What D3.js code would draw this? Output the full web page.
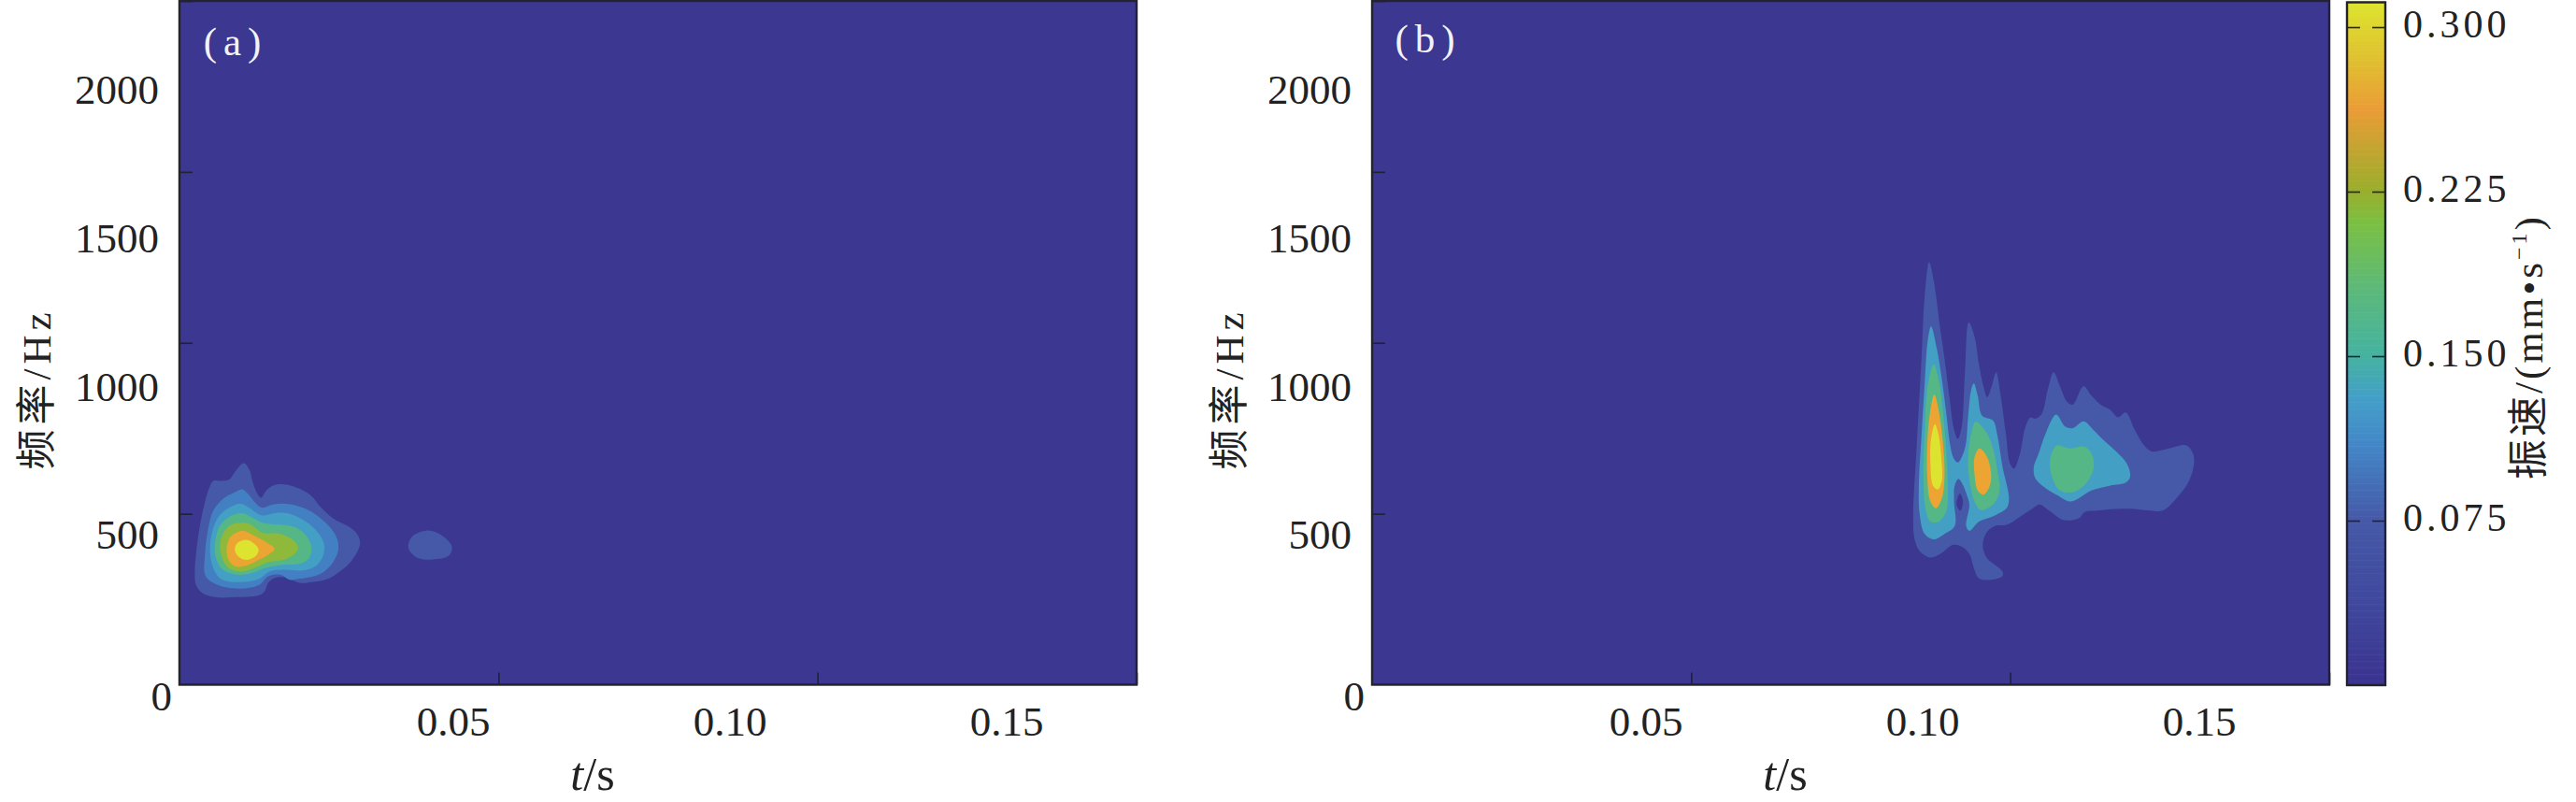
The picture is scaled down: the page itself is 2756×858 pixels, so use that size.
<!DOCTYPE html>
<html><head><meta charset="utf-8">
<script src="https://cdn.jsdelivr.net/npm/d3@7"></script>
<style>
html,body{margin:0;padding:0;background:#fff}
svg{display:block}
text{font-family:"Liberation Serif","Noto Sans CJK SC",serif;fill:#222}
</style></head><body>
<svg id="c" width="2756" height="858"></svg>
<script>
// ---- data: closed iso-velocity outlines, each point [time in ms, frequency in Hz]
const bandColors = ["#4659a8","#437fc3","#449fc4","#55b785","#8fb93a","#eca533","#dde42f"];
const backgroundColor = "#3c3790";

const a1 = [[10.1,648],[11,627],[11.5,591],[12.2,559],[12.8,547],[13.6,568],[14.6,582],[16.3,586],[18.3,577],[20.5,555],[22.2,518],[24.1,486],[26.8,459],[28,436],[28.3,413],[27.8,386],[26.6,354],[25.1,331],[23.2,309],[20.7,300],[18.8,298],[16.8,313],[15.1,313],[14,300],[13.3,272],[12.4,261],[9,256],[5.6,256],[3.6,268],[2.6,291],[2.4,327],[2.6,382],[3.1,454],[3.9,527],[4.7,577],[5.3,596],[6.5,596],[7.8,600],[8.7,623]];
const a1b = [[38.9,451],[41.1,437],[42.7,404],[42.2,377],[39.3,366],[37.2,372],[35.9,399],[36.4,432]];
const a2 = [[9.9,571],[10.7,559],[11.7,536],[12.9,518],[14.6,527],[16.8,529],[19.3,518],[21.2,500],[23.2,468],[24.6,432],[24.9,395],[24.1,359],[22.7,331],[21.2,318],[18.8,310],[17.3,307],[15.8,322],[14,318],[12.4,291],[9.5,281],[6.1,291],[4.1,318],[4,382],[4.4,445],[5.3,509],[7,546],[8.5,561]];
const a3 = [[9.7,529],[11.2,514],[12.9,495],[14.9,502],[17.3,500],[19.8,477],[21.7,445],[22.7,409],[22.4,372],[21.2,345],[19.3,334],[16.3,336],[14.1,331],[12.4,309],[9.5,300],[6.5,309],[5.3,341],[4.8,391],[5.1,445],[6.1,491],[7.8,518]];
const a4 = [[9.7,502],[11.7,486],[13.1,473],[15.8,468],[18.3,459],[20,432],[20.7,400],[20.2,368],[18.8,354],[15.8,350],[13.4,341],[11.4,327],[9,322],[6.8,336],[5.7,372],[5.6,418],[6.3,464],[7.8,491]];
const a5 = [[9.7,474],[11.2,468],[12.9,445],[15.8,441],[17.8,423],[18.6,402],[18,382],[16.3,365],[13.9,359],[11.7,341],[9.5,331],[7.5,345],[6.5,382],[6.5,427],[7.8,464]];
const a6 = [[10,450],[11.7,436],[13.9,413],[14.9,398],[14.1,382],[12.2,363],[10.7,350],[9,345],[7.8,361],[7.4,395],[7.8,427],[8.7,443]];
const a7 = [[10.5,424],[11.7,413],[12.4,395],[12,377],[10.7,365],[9.5,371],[8.7,391],[9,413]];

const b1 = [[87.3,1236],[88,1183],[89,1046],[89.7,955],[90.5,837],[91.2,746],[91.8,719],[92.4,755],[92.9,910],[93.5,1060],[94.4,1019],[95.1,937],[95.8,873],[96.4,841],[97.1,873],[97.8,914],[98.5,846],[99.3,737],[100,646],[100.6,632],[101.5,673],[102.4,755],[103.2,782],[103.9,778],[104.9,791],[105.9,864],[106.8,914],[107.8,873],[108.9,828],[109.8,819],[111.5,873],[112.7,846],[114.2,819],[115.6,805],[116.9,782],[118.1,796],[119.5,746],[121,700],[122.2,682],[124.9,691],[127.6,700],[128.6,678],[128.8,646],[127.9,591],[126.1,546],[123.9,509],[122,509],[119.5,514],[116.6,514],[113.7,509],[111.7,505],[110.7,486],[108.3,482],[106.1,509],[104.6,527],[103.4,514],[101.5,491],[99.5,468],[97.6,464],[96.3,445],[95.7,409],[96.3,372],[98.8,331],[98.8,318],[97.1,307],[95.1,311],[94.4,336],[93.6,382],[92.4,404],[91,409],[89,382],[87.5,372],[85.8,391],[85,427],[84.8,500],[85.3,682],[86.1,955],[86.6,1137]];
const b1hole = [[92.1,559],[92.6,536],[92.2,509],[91.6,527]];
const b3 = [[87.6,1048],[88.5,983],[89.3,892],[90,791],[90.6,700],[91.1,664],[91.8,650],[92.9,691],[93.4,782],[93.9,864],[94.3,881],[94.9,846],[95.6,787],[97.3,773],[98,728],[98.8,637],[99.8,546],[99.5,518],[97.6,495],[95.1,477],[93.6,450],[93.1,464],[93.6,527],[93.2,555],[92.4,591],[91.9,602],[91.3,582],[91.2,536],[91.3,464],[89.7,441],[88,425],[86.6,441],[85.8,500],[85.7,591],[86.1,728],[86.6,882],[87.1,1010]];
const b3r = [[107.2,790],[108.6,755],[109.8,750],[111.5,770],[113,746],[114.7,714],[116.6,682],[118.3,646],[118.8,609],[118.1,591],[115.6,582],[112.7,568],[110.7,545],[109.3,536],[107.3,555],[105.4,577],[103.9,605],[103.7,637],[104.4,673],[105.6,737]];
const b4l = [[88,937],[88.9,882],[89.5,791],[90,682],[90.2,591],[90,509],[88.8,477],[87.5,477],[86.7,518],[86.4,609],[86.6,737],[87,864]];
const b4m = [[94.6,769],[96.3,737],[97.3,691],[98,627],[98.3,564],[97.3,527],[95.4,511],[94.4,536],[93.6,600],[93.4,664],[93.9,737]];
const b4r = [[107.3,700],[109.3,691],[111.7,696],[112.8,673],[113.1,637],[112,591],[110,564],[107.8,568],[106.6,605],[106.2,646],[106.6,682]];
const b6l = [[88.1,848],[88.9,791],[89.5,700],[89.7,609],[89.3,546],[88.4,516],[87.5,536],[87,609],[87,700],[87.4,791]];
const b6m = [[95.2,691],[96.3,669],[97,618],[96.8,582],[95.8,556],[94.9,568],[94.4,618],[94.4,664]];
const b7 = [[88.2,762],[88.8,728],[89.2,664],[89.3,600],[88.7,571],[87.9,582],[87.5,646],[87.6,719]];

// [outline, band index; -1 is the background colour]
const shapesA = [[a1,0],[a1b,0],[a2,1],[a3,2],[a4,3],[a5,4],[a6,5],[a7,6]];
const shapesB = [[b1,0],[b1hole,-1],[b3,2],[b3r,2],[b4l,3],[b4m,3],[b4r,3],[b6l,5],[b6m,5],[b7,6]];

const yTicks = [500,1000,1500,2000];
const yLabels = [0,500,1000,1500,2000];
const xTicks = [0.05,0.10,0.15];
const xLabels = [0.05,0.10,0.15];
const cbarTicks = [0.075,0.150,0.225,0.300];
const cbarStops = [0,0.04,0.075,0.11,0.13,0.15,0.18,0.21,0.225,0.262,0.285,0.3113];
const cbarColors = ["#3b3390","#404a9e","#4659a8","#4388c8","#449fc8","#45b3a0","#5cb97a","#7ac043","#9aae2c","#ea9c36","#e0c030","#dde52e"];

// ---- drawing
const svg = d3.select("#c");
const ink = "#222230";
const panelTop = 1, panelBottom = 732.5, panelW = 1024;
const y = d3.scaleLinear().domain([0,2000]).range([panelBottom,panelTop]);
const yLab = d3.scaleLinear().domain([0,500,2000]).range([745,572,96]);
const cbarColor = d3.scaleLinear().domain(cbarStops).range(cbarColors);

function panel(left, shapes, tag){
  const g = svg.append("g");
  const x = d3.scaleLinear().domain([0,0.15]).range([left,left+panelW]);
  const xLab = d3.scaleLinear().domain([0.05,0.15]).range([left+293,left+885]);
  g.append("rect").attr("x",left).attr("y",panelTop).attr("width",panelW).attr("height",panelBottom-panelTop).attr("fill",backgroundColor);
  const line = d3.line().x(d=>x(d[0]/1000)).y(d=>y(d[1])).curve(d3.curveCatmullRomClosed.alpha(0.5));
  g.selectAll("path.band").data(shapes).join("path").attr("class","band")
    .attr("d",d=>line(d[0])).attr("fill",d=>d[1]<0?backgroundColor:bandColors[d[1]]);

  // tick marks, pointing inward
  const yAxis = g.append("g").attr("transform",`translate(${left},0)`)
    .call(d3.axisRight(y).tickValues(yTicks).tickSize(14).tickFormat(""));
  const xAxis = g.append("g").attr("transform",`translate(0,${panelBottom})`)
    .call(d3.axisTop(x).tickValues(xTicks).tickSize(13).tickFormat(""));
  [yAxis,xAxis].forEach(s=>{s.select(".domain").remove();s.selectAll("line").attr("stroke",ink).attr("stroke-width",1.6);});

  g.append("rect").attr("x",left).attr("y",panelTop).attr("width",panelW).attr("height",panelBottom-panelTop)
    .attr("fill","none").attr("stroke",ink).attr("stroke-width",2.4);

  // tick labels sit where the reference prints them, apart from the tick marks
  g.selectAll("text.yl").data(yLabels).join("text").attr("class","yl")
    .attr("x",d=>d===0?left-8:left-22).attr("y",d=>yLab(d)).attr("dy","0.34em")
    .attr("text-anchor","end").attr("font-size",45).text(d=>d);
  g.selectAll("text.xl").data(xLabels).join("text").attr("class","xl")
    .attr("x",d=>xLab(d)).attr("y",772).attr("dy","0.34em")
    .attr("text-anchor","middle").attr("font-size",45).text(d=>d3.format(".2f")(d));

  const xt = g.append("text").attr("x",left+442).attr("y",845).attr("text-anchor","middle").attr("font-size",50);
  xt.append("tspan").attr("font-style","italic").text("t");
  xt.append("tspan").text("/s");

  g.append("text").attr("transform",`translate(${left-153},416) rotate(-90)`).attr("text-anchor","middle")
    .attr("dy","0.34em").attr("font-size",43).attr("letter-spacing",5).text("频率/Hz");

  g.append("text").attr("x",left+60).attr("y",tag==="(a)"?46:43).attr("dy","0.3em").attr("text-anchor","middle")
    .attr("font-size",43).attr("letter-spacing",7).style("fill","#f2f2f8").text(tag);
}
panel(192,shapesA,"(a)");
panel(1468,shapesB,"(b)");

// colour bar
const cb = {x:2511,w:41,top:2.5,bottom:733};
const cy = d3.scaleLinear().domain([0,0.3113]).range([cb.bottom,cb.top]);
const gb = svg.append("g");
gb.selectAll("rect.s").data(d3.range(0,0.3113,0.001)).join("rect").attr("class","s")
  .attr("x",cb.x).attr("width",cb.w).attr("y",d=>cy(d+0.001)).attr("height",d=>cy(d)-cy(d+0.001)+0.6)
  .attr("fill",d=>cbarColor(d));
const tickL = gb.append("g").attr("transform",`translate(${cb.x},0)`).call(d3.axisRight(cy).tickValues(cbarTicks).tickSize(14).tickFormat(""));
const tickR = gb.append("g").attr("transform",`translate(${cb.x+cb.w},0)`).call(d3.axisLeft(cy).tickValues(cbarTicks).tickSize(14).tickFormat(""));
[tickL,tickR].forEach(s=>{s.select(".domain").remove();s.selectAll("line").attr("stroke",ink).attr("stroke-width",1.6);});
gb.append("rect").attr("x",cb.x).attr("y",cb.top).attr("width",cb.w).attr("height",cb.bottom-cb.top)
  .attr("fill","none").attr("stroke",ink).attr("stroke-width",2.4);
gb.selectAll("text.cl").data(cbarTicks).join("text").attr("class","cl")
  .attr("x",2571).attr("y",d=>cy(d)-3).attr("dy","0.34em").attr("font-size",42).attr("letter-spacing",4)
  .text(d=>d3.format(".3f")(d));
const ct = gb.append("text").attr("transform","translate(2705,371) rotate(-90)").attr("text-anchor","middle")
  .attr("dy","0.34em").attr("font-size",43).attr("letter-spacing",3);
ct.append("tspan").text("振速/(mm•s");
ct.append("tspan").attr("font-size",24).attr("dy","-0.7em").text("−1");
ct.append("tspan").attr("dy","0.4em").text(")");
</script>
</body></html>
